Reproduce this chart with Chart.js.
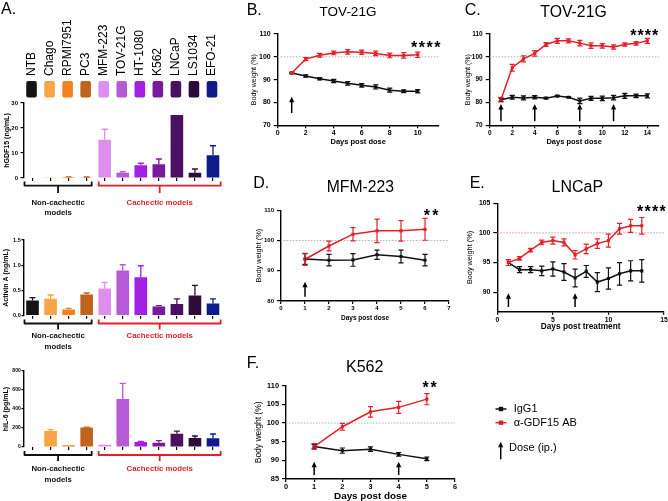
<!DOCTYPE html>
<html>
<head>
<meta charset="utf-8">
<script src="https://cdn.jsdelivr.net/npm/chart.js@4.4.1/dist/chart.umd.min.js"></script>
<style>
  html, body { margin: 0; padding: 0; background: #fff; }
  body { width: 668px; height: 501px; overflow: hidden; position: relative; }
  canvas { position: absolute; }
</style>
</head>
<body>
<script>
const FF = '"Liberation Sans", Arial, Helvetica, sans-serif';
const RED = "#e3202a";
const BLK = "#111111";

// ---- panel A data ----
const cellLines = ["NTB", "Chago", "RPMI7951", "PC3", "MFM-223", "TOV-21G", "HT-1080", "K562", "LNCaP", "LS1034", "EFO-21"];
const cellColors = ["#141414", "#f9a445", "#f5801d", "#c0631c", "#de8eec", "#b65ad6", "#a220e4", "#7a1b9e", "#4a1062", "#2e0c3a", "#0e1b8c"];
const gdf15 = [0, 0.1, 0.4, 0.3, 15.3, 2.1, 5.1, 5.5, 25.2, 2.1, 9.1];
const gdf15Err = [0, 0, 0.1, 0.1, 4.2, 0.4, 0.8, 2.1, 0, 1.5, 3.8];
const activinA = [0.30, 0.335, 0.125, 0.42, 0.54, 0.895, 0.76, 0.18, 0.23, 0.40, 0.24];
const activinErr = [0.06, 0.075, 0.02, 0.03, 0.12, 0.115, 0.23, 0.02, 0.105, 0.2, 0.095];
const il6 = [0, 168, 18, 205, 25, 505, 53, 45, 140, 95, 91];
const il6Err = [0, 14, 0, 5, 0, 165, 7, 22, 28, 21, 46];
const groupNames = [["Non-cachectic", "models"], ["Cachectic models"]];
const groupRanges = [[0, 3], [4, 10]];

// ---- panels B-F data ----
const seriesNames = ["IgG1", "α-GDF15 AB"];

const daysB = [1, 2, 3, 4, 5, 6, 7, 8, 9, 10];
const iggB = [92.9, 91.6, 90.4, 89.4, 88.4, 87.5, 86.8, 85.4, 84.9, 84.9];
const iggErrB = [0.3, 0.5, 0.5, 0.7, 0.8, 0.8, 0.9, 0.9, 0.6, 0.7];
const abB = [92.9, 99.0, 100.7, 101.7, 102.2, 102.0, 101.5, 100.6, 100.6, 100.9];
const abErrB = [0.3, 0.7, 0.8, 0.8, 1.0, 0.9, 1.0, 1.0, 1.2, 1.2];
const doseB = [1];
const xTicksB = [0, 2, 4, 6, 8, 10];
const yTicksB = [70, 80, 90, 100, 110];

const daysC = [1, 2, 3, 4, 5, 6, 7, 8, 9, 10, 11, 12, 13, 14];
const iggC = [81.2, 82.3, 82.0, 82.3, 81.9, 82.8, 82.3, 80.7, 81.8, 81.8, 82.1, 82.9, 82.9, 82.9];
const iggErrC = [0.7, 0.8, 0.9, 0.7, 0.3, 0.3, 0.3, 1.2, 0.9, 1.0, 1.0, 1.1, 0.8, 0.9];
const abC = [81.2, 95.2, 99.1, 101.5, 105.4, 107.0, 107.0, 106.0, 104.9, 104.8, 104.3, 105.4, 105.9, 107.0];
const abErrC = [1.0, 1.5, 1.3, 1.2, 0.8, 1.1, 0.9, 1.2, 1.2, 1.0, 0.9, 0.7, 0.8, 1.1];
const doseC = [1, 4, 8, 11];
const xTicksC = [0, 2, 4, 6, 8, 10, 12, 14];
const yTicksC = [70, 80, 90, 100, 110];

const daysD = [1, 2, 3, 4, 5, 6];
const iggD = [93.9, 93.5, 93.6, 95.3, 94.7, 93.5];
const iggErrD = [1.8, 1.9, 2.1, 1.5, 2.1, 1.9];
const abD = [93.8, 98.2, 102.1, 103.2, 103.2, 103.7];
const abErrD = [2.0, 1.6, 2.2, 3.9, 3.4, 3.6];
const doseD = [1];
const xTicksD = [0, 1, 2, 3, 4, 5, 6, 7];
const yTicksD = [80, 90, 100, 110];

const daysE = [1, 2, 3, 4, 5, 6, 7, 8, 9, 10, 11, 12, 13];
const iggE = [95.0, 93.8, 93.8, 93.6, 93.9, 93.4, 92.4, 93.5, 91.7, 92.3, 93.1, 93.6, 93.6];
const iggErrE = [0.5, 0.5, 0.5, 0.8, 1.2, 1.4, 1.5, 1.0, 1.6, 1.8, 1.9, 1.7, 1.9];
const abE = [95.0, 95.7, 97.1, 98.4, 98.7, 98.4, 96.3, 97.3, 98.2, 98.7, 100.7, 101.2, 101.2];
const abErrE = [0.5, 0.3, 0.3, 0.4, 0.6, 0.6, 0.7, 0.8, 0.8, 1.1, 0.9, 1.1, 1.4];
const doseE = [1, 7];
const xTicksE = [0, 5, 10, 15];
const yTicksE = [90, 95, 100, 105];

const daysF = [1, 2, 3, 4, 5];
const iggF = [93.7, 92.6, 93.0, 91.6, 90.4];
const iggErrF = [0.6, 0.7, 0.6, 0.5, 0.5];
const abF = [93.7, 99.0, 103.0, 104.2, 106.4];
const abErrF = [0.8, 0.9, 1.4, 1.6, 1.5];
const doseF = [1, 4];
const xTicksF = [0, 1, 2, 3, 4, 5, 6];
const yTicksF = [85, 90, 95, 100, 105, 110];

Chart.defaults.font.family = FF;

function makeCanvas(box) {
  const c = document.createElement("canvas");
  c.width = box.w;
  c.height = box.h;
  c.style.left = box.x + "px";
  c.style.top = box.y + "px";
  c.style.width = box.w + "px";
  c.style.height = box.h + "px";
  document.body.appendChild(c);
  return c;
}

// title padding is 0, so the title centre sits lineHeight/2 inside the scale box
function layoutFor(box, plot, yTitle, xTitle) {
  const scaleLeft = yTitle.x - yTitle.size * 0.6;
  const yW = plot.l - scaleLeft;
  const xH = xTitle ? xTitle.y + xTitle.size * 0.6 - plot.b : 3;
  return {
    yW, xH,
    padding: {
      left: scaleLeft - box.x,
      top: plot.t - box.y,
      right: box.x + box.w - plot.r,
      bottom: box.y + box.h - plot.b - xH
    }
  };
}

function textLayer(box, items, stars) {
  return {
    id: "textLayer",
    afterDraw(chart) {
      const ctx = chart.ctx;
      ctx.save();
      ctx.textBaseline = "middle";
      items.forEach(it => {
        ctx.font = `${it.bold ? "bold " : ""}${it.size}px ${FF}`;
        ctx.fillStyle = it.color || "#000";
        ctx.textAlign = it.align || "left";
        ctx.fillText(it.text, it.x - box.x, it.y - box.y);
      });
      (stars || []).forEach(s => {
        ctx.font = `bold ${s.size}px ${FF}`;
        ctx.fillStyle = "#000";
        ctx.textAlign = "center";
        for (let k = 0; k < s.n; k++) {
          const x = s.x + (k - (s.n - 1) / 2) * s.gap;
          ctx.fillText("*", x - box.x, s.y - box.y + s.size * 0.23);
        }
      });
      ctx.restore();
    }
  };
}

function errorBars(upOnly, cap, width) {
  return {
    id: "errorBars",
    afterDatasetsDraw(chart) {
      const ctx = chart.ctx;
      const yS = chart.scales.y;
      ctx.save();
      ctx.lineWidth = width;
      for (let d = chart.data.datasets.length - 1; d >= 0; d--) {
        const ds = chart.data.datasets[d];
        if (!ds.errors) continue;
        const meta = chart.getDatasetMeta(d);
        meta.data.forEach((el, i) => {
          const raw = ds.data[i];
          const v = typeof raw === "object" ? raw.y : raw;
          const e = ds.errors[i];
          if (!e) return;
          ctx.strokeStyle = Array.isArray(ds.backgroundColor) ? ds.backgroundColor[i] : ds.borderColor;
          const top = yS.getPixelForValue(v + e);
          const bot = upOnly ? el.y : yS.getPixelForValue(v - e);
          ctx.beginPath();
          ctx.moveTo(el.x, top);
          ctx.lineTo(el.x, bot);
          ctx.moveTo(el.x - cap, top);
          ctx.lineTo(el.x + cap, top);
          if (!upOnly) {
            ctx.moveTo(el.x - cap, bot);
            ctx.lineTo(el.x + cap, bot);
          }
          ctx.stroke();
        });
      }
      ctx.restore();
    }
  };
}

function refLine(value, color) {
  return {
    id: "refLine",
    beforeDatasetsDraw(chart) {
      const ctx = chart.ctx;
      const a = chart.chartArea;
      const y = chart.scales.y.getPixelForValue(value);
      ctx.save();
      ctx.strokeStyle = color;
      ctx.lineWidth = 1;
      ctx.setLineDash([1.5, 1.5]);
      ctx.beginPath();
      ctx.moveTo(a.left, y);
      ctx.lineTo(a.right, y);
      ctx.stroke();
      ctx.restore();
    }
  };
}

function drawArrow(ctx, x, yBottom, yTop) {
  ctx.beginPath();
  ctx.moveTo(x, yBottom);
  ctx.lineTo(x, yTop + 4);
  ctx.stroke();
  ctx.beginPath();
  ctx.moveTo(x, yTop);
  ctx.lineTo(x - 2.6, yTop + 5.5);
  ctx.lineTo(x + 2.6, yTop + 5.5);
  ctx.closePath();
  ctx.fill();
}

function doseArrows(days, from, to) {
  return {
    id: "doseArrows",
    afterDatasetsDraw(chart) {
      const ctx = chart.ctx;
      const xS = chart.scales.x, yS = chart.scales.y;
      ctx.save();
      ctx.strokeStyle = "#000";
      ctx.fillStyle = "#000";
      ctx.lineWidth = 1.5;
      days.forEach(d => drawArrow(ctx, xS.getPixelForValue(d), yS.getPixelForValue(from), yS.getPixelForValue(to)));
      ctx.restore();
    }
  };
}

// rotated cell line names and colour keys above the first bar chart
function cellKey(box, labelBottom, swTop, swH) {
  return {
    id: "cellKey",
    afterDraw(chart) {
      const ctx = chart.ctx;
      const xS = chart.scales.x;
      ctx.save();
      ctx.font = `12px ${FF}`;
      ctx.textAlign = "left";
      ctx.textBaseline = "middle";
      cellLines.forEach((name, i) => {
        const x = xS.getPixelForValue(i) - 1;
        ctx.save();
        ctx.translate(x, labelBottom - box.y);
        ctx.rotate(-Math.PI / 2);
        ctx.fillStyle = "#000";
        ctx.fillText(name, 0, 0);
        ctx.restore();
        ctx.fillStyle = cellColors[i];
        ctx.beginPath();
        ctx.roundRect(x - 5.3, swTop - box.y, 10.6, swH, 2);
        ctx.fill();
      });
      ctx.restore();
    }
  };
}

function groupBrackets(box, pos) {
  return {
    id: "groupBrackets",
    afterDraw(chart) {
      const ctx = chart.ctx;
      const xS = chart.scales.x;
      const w = xS.width / cellLines.length;
      const insets = [[1, 4], [3, 1.3]];
      const colors = [BLK, RED];
      ctx.save();
      groupRanges.forEach((rg, g) => {
        const x0 = xS.getPixelForValue(rg[0]) - w / 2 + insets[g][0];
        const x1 = xS.getPixelForValue(rg[1]) + w / 2 - insets[g][1];
        const xm = (x0 + x1) / 2;
        ctx.strokeStyle = colors[g];
        ctx.lineWidth = 1.8;
        ctx.lineJoin = "round";
        ctx.beginPath();
        ctx.moveTo(x0, pos.top - box.y);
        ctx.lineTo(x0, pos.line - box.y);
        ctx.lineTo(x1, pos.line - box.y);
        ctx.lineTo(x1, pos.top - box.y);
        ctx.moveTo(xm, pos.line - box.y);
        ctx.lineTo(xm, pos.tick - box.y);
        ctx.stroke();
        ctx.fillStyle = colors[g];
        ctx.font = `bold 7.8px ${FF}`;
        ctx.textAlign = "center";
        ctx.textBaseline = "middle";
        groupNames[g].forEach((t, k) => ctx.fillText(t, xm, pos.text[k] - box.y));
      });
      ctx.restore();
    }
  };
}

function legendLayer(box, items) {
  return {
    id: "legendLayer",
    afterDraw(chart) {
      const ctx = chart.ctx;
      const ds = chart.data.datasets;
      ctx.save();
      ctx.font = `11px ${FF}`;
      ctx.textBaseline = "middle";
      ctx.textAlign = "left";
      [ds[1], ds[0]].forEach((d, k) => {
        const y = items.y[k] - box.y;
        const x = items.x - box.x;
        ctx.strokeStyle = d.borderColor;
        ctx.fillStyle = d.borderColor;
        ctx.lineWidth = 1.5;
        ctx.beginPath();
        ctx.moveTo(x - 5.5, y);
        ctx.lineTo(x + 5.5, y);
        ctx.stroke();
        ctx.fillRect(x - 2.2, y - 2.2, 4.4, 4.4);
        ctx.fillStyle = "#000";
        ctx.fillText(d.label, items.textX - box.x, y);
      });
      ctx.strokeStyle = "#000";
      ctx.fillStyle = "#000";
      ctx.lineWidth = 1.5;
      drawArrow(ctx, items.arrowX - box.x, items.arrowBottom - box.y, items.arrowTop - box.y);
      ctx.fillText("Dose (ip.)", items.doseX - box.x, items.doseY - box.y);
      ctx.restore();
    }
  };
}

function axisStyle(tickSize, tickLen, pad) {
  return {
    border: { color: "#000", width: 1.4 },
    grid: { drawOnChartArea: false, drawTicks: true, tickLength: tickLen, color: "#000", lineWidth: 1.2 },
    ticks: { color: "#000", padding: pad, autoSkip: false, maxRotation: 0, font: { size: tickSize, weight: "bold", family: FF } }
  };
}

function barPanel(p) {
  const canvas = makeCanvas(p.box);
  const lay = layoutFor(p.box, p.plot, p.yTitle, null);
  const yAx = axisStyle(p.tick.size, p.tick.len, p.tick.pad);
  const xAx = axisStyle(6, 3, 0);
  const extra = [groupBrackets(p.box, p.brackets), errorBars(true, 3, 1.3), textLayer(p.box, p.texts || [], [])];
  if (p.key) extra.push(cellKey(p.box, 76, 81, 16.5));
  new Chart(canvas, {
    type: "bar",
    data: {
      labels: cellLines,
      datasets: [{ data: p.values, errors: p.errors, backgroundColor: cellColors, borderWidth: 0, barPercentage: 0.7, categoryPercentage: 1 }]
    },
    options: {
      responsive: false, animation: false, devicePixelRatio: 1,
      layout: { padding: lay.padding },
      plugins: { legend: { display: false }, tooltip: { enabled: false } },
      scales: {
        x: {
          ...xAx,
          border: { display: false },
          grid: { ...xAx.grid, offset: false },
          ticks: { display: false },
          afterFit: s => { s.height = lay.xH; }
        },
        y: {
          ...yAx,
          min: 0, max: p.yMax,
          afterBuildTicks: s => { s.ticks = p.yTicks.map(v => ({ value: v })); },
          ticks: { ...yAx.ticks, callback: p.fmt || (v => v) },
          title: { display: true, text: p.yTitle.text, padding: 0, color: "#000", font: { size: p.yTitle.size, weight: "bold", family: FF } },
          afterFit: s => { s.width = lay.yW; }
        }
      }
    },
    plugins: extra
  });
}

function linePanel(p) {
  const canvas = makeCanvas(p.box);
  const lay = layoutFor(p.box, p.plot, p.yTitle, p.xTitle);
  const yAx = axisStyle(p.tickSize, 4, 3);
  const xAx = axisStyle(p.tickSize, 3, 1);
  const ser = (vals) => p.days.map((d, i) => ({ x: d, y: vals[i] }));
  const common = { borderWidth: 1.5, pointStyle: "rect", pointRadius: 2.2, pointBorderWidth: 0, tension: 0 };
  const extra = [refLine(100, p.refColor), errorBars(false, 2.6, 1.2), doseArrows(p.dose, p.arrow[0], p.arrow[1]), textLayer(p.box, p.texts, p.stars)];
  if (p.legend) extra.push(legendLayer(p.box, p.legend));
  new Chart(canvas, {
    type: "line",
    data: {
      datasets: [
        { label: seriesNames[1], data: ser(p.ab), errors: p.abErr, borderColor: RED, backgroundColor: RED, ...common },
        { label: seriesNames[0], data: ser(p.igg), errors: p.iggErr, borderColor: BLK, backgroundColor: BLK, ...common }
      ]
    },
    options: {
      responsive: false, animation: false, devicePixelRatio: 1,
      layout: { padding: lay.padding },
      plugins: { legend: { display: false }, tooltip: { enabled: false } },
      scales: {
        x: {
          ...xAx,
          type: "linear", min: 0, max: p.xMax,
          afterBuildTicks: s => { s.ticks = p.xTicks.map(v => ({ value: v })); },
          title: { display: true, text: p.xTitle.text, padding: 0, color: "#000", font: { size: p.xTitle.size, weight: "bold", family: FF } },
          afterFit: s => { s.height = lay.xH; }
        },
        y: {
          ...yAx,
          min: p.yMin, max: p.yMax,
          afterBuildTicks: s => { s.ticks = p.yTicks.map(v => ({ value: v })); },
          title: { display: true, text: "Body weight (%)", padding: 0, color: "#000", font: { size: p.yTitle.size, family: FF } },
          afterFit: s => { s.width = lay.yW; }
        }
      }
    },
    plugins: extra
  });
}

// ---- panel A ----
barPanel({
  box: { x: 0, y: 0, w: 230, h: 222 }, plot: { l: 23.5, r: 222, t: 103, b: 178 },
  values: gdf15, errors: gdf15Err, yMax: 30, yTicks: [0, 10, 20, 30],
  tick: { size: 6, len: 3, pad: 2.5 },
  yTitle: { text: "hGDF15 (ng/mL)", x: 7, size: 7 },
  brackets: { top: 181.5, line: 185.7, tick: 193, text: [202.7, 212.7] },
  key: true,
  texts: [{ text: "A.", x: 1, y: 10, size: 16 }]
});
barPanel({
  box: { x: 0, y: 222, w: 230, h: 128 }, plot: { l: 23.5, r: 222, t: 240, b: 315.7 },
  values: activinA, errors: activinErr, yMax: 1.5, yTicks: [0, 0.5, 1, 1.5], fmt: v => v.toFixed(1),
  tick: { size: 5.5, len: 2, pad: 0.8 },
  yTitle: { text: "Activin A (ng/mL)", x: 6.3, size: 7 },
  brackets: { top: 319.5, line: 323.5, tick: 329.5, text: [335.5, 346.7] }
});
barPanel({
  box: { x: 0, y: 350, w: 230, h: 151 }, plot: { l: 23.5, r: 222, t: 371, b: 447 },
  values: il6, errors: il6Err, yMax: 800, yTicks: [0, 200, 400, 600, 800],
  tick: { size: 5, len: 2, pad: 0.8 },
  yTitle: { text: "hIL-6 (pg/mL)", x: 6.3, size: 7 },
  brackets: { top: 451, line: 455, tick: 461, text: [469, 480] }
});

// ---- panels B-F ----
linePanel({
  box: { x: 230, y: 0, w: 218, h: 165 }, plot: { l: 277.7, r: 438.7, t: 34, b: 125.3 },
  days: daysB, igg: iggB, iggErr: iggErrB, ab: abB, abErr: abErrB, dose: doseB, arrow: [75.4, 82.5],
  xMax: 11.5, xTicks: xTicksB, yMin: 70, yMax: 110, yTicks: yTicksB, tickSize: 7, refColor: "#b0b0b0",
  yTitle: { x: 254, size: 7 }, xTitle: { text: "Days post dose", y: 141.7, size: 7.5 },
  texts: [{ text: "B.", x: 246.7, y: 10.5, size: 16 }, { text: "TOV-21G", x: 348, y: 12.5, size: 13.5, align: "center" }],
  stars: [{ x: 425.7, y: 44.5, n: 4, gap: 7.7, size: 16 }]
});
linePanel({
  box: { x: 448, y: 0, w: 230, h: 165 }, plot: { l: 489.7, r: 658.6, t: 34, b: 125.3 },
  days: daysC, igg: iggC, iggErr: iggErrC, ab: abC, abErr: abErrC, dose: doseC, arrow: [71.8, 79.3],
  xMax: 15, xTicks: xTicksC, yMin: 70, yMax: 110, yTicks: yTicksC, tickSize: 6.5, refColor: "#b0b0b0",
  yTitle: { x: 468, size: 7 }, xTitle: { text: "Days post dose", y: 141.7, size: 7.5 },
  texts: [{ text: "C.", x: 464.7, y: 10.5, size: 16 }, { text: "TOV-21G", x: 573.5, y: 12.5, size: 15.8, align: "center" }],
  stars: [{ x: 644.2, y: 32.5, n: 4, gap: 7.3, size: 16 }]
});
linePanel({
  box: { x: 230, y: 165, w: 225, h: 165 }, plot: { l: 281, r: 449, t: 210.3, b: 301 },
  days: daysD, igg: iggD, iggErr: iggErrD, ab: abD, abErr: abErrD, dose: doseD, arrow: [81.4, 86.4],
  xMax: 7, xTicks: xTicksD, yMin: 80, yMax: 110, yTicks: yTicksD, tickSize: 6, refColor: "#b0b0b0",
  yTitle: { x: 259.3, size: 7.4 }, xTitle: { text: "Days post dose", y: 318, size: 6.5 },
  texts: [{ text: "D.", x: 253.3, y: 183.5, size: 16 }, { text: "MFM-223", x: 360.3, y: 187.5, size: 15.7, align: "center" }],
  stars: [{ x: 431, y: 212.5, n: 2, gap: 8.5, size: 16 }]
});
linePanel({
  box: { x: 448, y: 165, w: 240, h: 175 }, plot: { l: 497.3, r: 664, t: 203.3, b: 311.7 },
  days: daysE, igg: iggE, iggErr: iggErrE, ab: abE, abErr: abErrE, dose: doseE, arrow: [87.5, 89.8],
  xMax: 15, xTicks: xTicksE, yMin: 86.7, yMax: 105, yTicks: yTicksE, tickSize: 6.8, refColor: "#e08a8a",
  yTitle: { x: 469.7, size: 7.3 }, xTitle: { text: "Days post treatment", y: 326.7, size: 8.3 },
  texts: [{ text: "E.", x: 469.7, y: 183.5, size: 16 }, { text: "LNCaP", x: 577.3, y: 187.5, size: 16, align: "center" }],
  stars: [{ x: 651.3, y: 208.7, n: 4, gap: 7.5, size: 16 }]
});
linePanel({
  box: { x: 230, y: 330, w: 438, h: 180 }, plot: { l: 286, r: 455, t: 385.7, b: 479 },
  days: daysF, igg: iggF, iggErr: iggErrF, ab: abF, abErr: abErrF, dose: doseF, arrow: [86.1, 89.6],
  xMax: 6, xTicks: xTicksF, yMin: 85, yMax: 110, yTicks: yTicksF, tickSize: 7.4, refColor: "#b0b0b0",
  yTitle: { x: 258.3, size: 8.5 }, xTitle: { text: "Days post dose", y: 496, size: 9.9 },
  texts: [{ text: "F.", x: 246.7, y: 363.8, size: 16 }, { text: "K562", x: 364.7, y: 368, size: 16, align: "center" }],
  stars: [{ x: 429.7, y: 384.5, n: 2, gap: 8, size: 16 }],
  legend: { x: 501, y: [409, 422.7], textX: 513.7, arrowX: 500.7, arrowTop: 441.7, arrowBottom: 459.3, doseX: 509, doseY: 448.3 }
});
</script>
</body>
</html>
